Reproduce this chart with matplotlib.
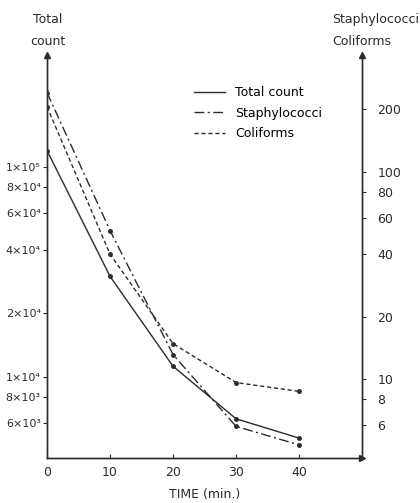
import numpy as np
import matplotlib
matplotlib.use("Agg")
import matplotlib.pyplot as plt

# values
time_min = [0, 10, 20, 30, 40]
total_count = [1.19e5, 3.0e4, 1.12e4, 6.3e3, 5.1e3]     # left axis
staphylococci = [241, 52, 13.1, 5.9, 4.8]              # right axis
coliforms = [206, 40, 14.8, 9.6, 8.7]                  # right axis

left_ticks = [6e3, 8e3, 1e4, 2e4, 4e4, 6e4, 8e4, 1e5]
left_labels = ["6×10³", "8×10³", "1×10⁴", "2×10⁴", "4×10⁴", "6×10⁴", "8×10⁴", "1×10⁵"]
right_ticks = [6, 8, 10, 20, 40, 60, 80, 100, 200]
right_labels = ["6", "8", "10", "20", "40", "60", "80", "100", "200"]
x_ticks = [0, 10, 20, 30, 40]

ink = "#2b2b2b"
plt.rcParams["font.family"] = "DejaVu Sans"
plt.rcParams["font.size"] = 9

fig = plt.figure(figsize=(4.2, 5.03), dpi=100)
ax = fig.add_axes([0.112, 0.0895, 0.75, 0.8015])
ax2 = ax.twinx()

l1, = ax.plot(time_min, total_count, "-", color=ink, lw=1.0,
              marker="o", ms=2.5, label="Total count")
l2, = ax2.plot(time_min, staphylococci, color=ink, lw=1.0, dashes=[7, 2.5, 1.5, 2.5],
               marker="o", ms=2.5, label="Staphylococci")
l3, = ax2.plot(time_min, coliforms, color=ink, lw=1.0, dashes=[3, 2],
               marker="o", ms=2.5, label="Coliforms")

ax.set_xlim(0, 50)
ax.set_yscale("log")
ax.set_ylim(4.1e3, 3.4e5)
ax2.set_yscale("log")
ax2.set_ylim(4.15, 367)

ax.set_xticks(x_ticks)
ax.set_yticks(left_ticks)
ax.set_yticklabels(left_labels)
ax.yaxis.set_minor_locator(matplotlib.ticker.NullLocator())
ax2.set_yticks(right_ticks)
ax2.set_yticklabels(right_labels)
ax2.yaxis.set_minor_locator(matplotlib.ticker.NullLocator())

for a in (ax, ax2):
    a.spines["top"].set_visible(False)
    for s in a.spines.values():
        s.set_color(ink)
        s.set_linewidth(1.0)
    a.tick_params(colors=ink, length=3, width=0.8, labelsize=9)
ax.tick_params(axis="y", labelsize=8, pad=1.5)
ax2.tick_params(axis="y", pad=8)
ax.tick_params(axis="x", direction="in", pad=6)

# arrow heads on the axis ends
ax.plot(0, 1, "^", color=ink, ms=4, transform=ax.transAxes, clip_on=False)
ax.plot(1, 1, "^", color=ink, ms=4, transform=ax.transAxes, clip_on=False)
ax.plot(1, 0, ">", color=ink, ms=4, transform=ax.transAxes, clip_on=False)

ax.set_xlabel("TIME (min.)", color=ink, labelpad=6)
fig.text(0.113, 0.94, "Total\ncount", ha="center", va="center",
         color=ink, linespacing=1.9)
fig.text(0.79, 0.94, "Staphylococci\nColiforms", ha="left", va="center",
         color=ink, linespacing=1.9)

leg = ax2.legend(handles=[l1, l2, l3], frameon=False, loc="upper left",
                 bbox_to_anchor=(0.43, 0.95), handlelength=2.5, labelspacing=0.6,
                 fontsize=9)
for h in leg.legend_handles:
    h.set_marker("")

fig.savefig("out.png", dpi=100)
